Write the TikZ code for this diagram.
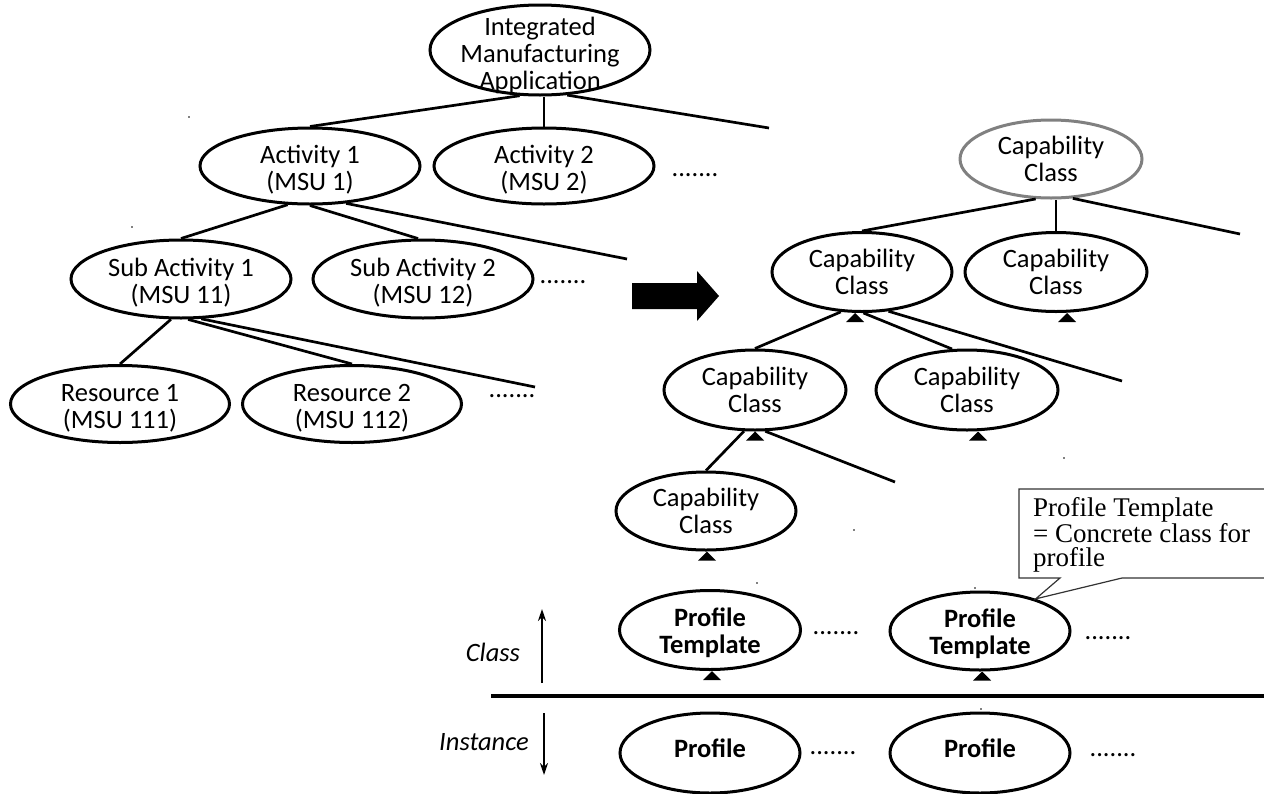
\documentclass[tikz,border=0pt]{standalone}
\usepackage{fontspec}
\setmainfont{Carlito}
\newfontfamily\tnr{Liberation Serif}
\usetikzlibrary{calc,arrows.meta,shapes.geometric}
\newcommand\ztext[2][12pt]{\makebox[0pt]{\smash{\raisebox{-#1}{\begin{tabular}{@{}c@{}}#2\end{tabular}}}}}
\begin{document}
\begin{tikzpicture}[x=1pt,y=-1pt,
  txt/.style={font=\fontsize{26.5}{27}\selectfont},
  el/.style={ellipse, draw, line width=3pt, inner sep=0pt, txt},
  gel/.style={el, draw=black!50},
  bel/.style={el, font=\fontsize{26.5}{27}\selectfont\bfseries},
  conn/.style={line width=2.7pt},
  dots/.style={inner sep=0pt, txt},
  lab/.style={inner sep=0pt, font=\fontsize{26.5}{27}\selectfont\itshape},
  updown/.style={line width=2.2pt, -{Stealth[length=12pt,width=8pt]}},
  tri/.style={fill=black}
]
\path[use as bounding box] (0,0) rectangle (1264,793);

% ---------------- left tree ----------------
\node[el, minimum width=220, minimum height=90] (top) at (540,50) {\ztext[13pt]{Integrated\\Manufacturing\\Application}};
\node[el, minimum width=220, minimum height=76] (act1) at (310,166) {\ztext{Activity 1\\(MSU 1)}};
\node[el, minimum width=220, minimum height=76] (act2) at (544,166) {\ztext{Activity 2\\(MSU 2)}};
\node[el, minimum width=220, minimum height=78] (sub1) at (181,279) {\ztext{Sub Activity 1\\(MSU 11)}};
\node[el, minimum width=220, minimum height=78] (sub2) at (423,279) {\ztext{Sub Activity 2\\(MSU 12)}};
\node[el, minimum width=219, minimum height=77] (res1) at (120,404) {\ztext{Resource 1\\(MSU 111)}};
\node[el, minimum width=219, minimum height=77] (res2) at (352,404) {\ztext{Resource 2\\(MSU 112)}};

\node[dots] (d1) at (695,175) {.......};
\node[dots] (d2) at (563,282) {.......};
\node[dots] (d3) at (512,396) {.......};

\coordinate (e1) at (769,128);
\coordinate (e2) at (627,259);
\coordinate (e3) at (535,387);
\draw[conn] (top.246) -- (act1.north);
\draw[conn] (act2.north) -- (act2.north |- top.south);
\draw[conn] (top.301) -- (e1);
\draw[conn] (act1.240) -- (sub1.north);
\draw[conn] (act1.south) -- (sub2.97);
\draw[conn] (act1.314) -- (e2);
\draw[conn] (sub1.256) -- (res1.north);
\draw[conn] (sub1.280) -- (res2.north);
\draw[conn] (sub1.297) -- (e3);

% ---------------- big arrow ----------------
\fill (632,283) -- (697,283) -- (697,271) -- (719,296) -- (697,321) -- (697,309) -- (632,309) -- cycle;

% ---------------- right tree ----------------
\node[gel, minimum width=182, minimum height=78] (cap0) at (1051,159) {\ztext[10pt]{Capability\\Class}};
\node[el, minimum width=180, minimum height=79] (cap1) at (862,272) {\ztext[10pt]{Capability\\Class}};
\node[el, minimum width=182, minimum height=79] (cap2) at (1056,272) {\ztext[10pt]{Capability\\Class}};
\node[el, minimum width=182, minimum height=80] (cap3) at (755,390) {\ztext[10pt]{Capability\\Class}};
\node[el, minimum width=182, minimum height=80] (cap4) at (967,390) {\ztext[10pt]{Capability\\Class}};
\node[el, minimum width=180, minimum height=78] (cap5) at (706,511) {\ztext[10pt]{Capability\\Class}};
\node[bel, minimum width=181, minimum height=79] (pt1) at (710,630) {\ztext[11pt]{Profile\\Template}};
\node[bel, minimum width=180, minimum height=78] (pt2) at (980,631) {\ztext[11pt]{Profile\\Template}};
\node[bel, minimum width=180, minimum height=80] (pr1) at (710,753) {\ztext[5pt]{Profile}};
\node[bel, minimum width=180, minimum height=80] (pr2) at (980,753) {\ztext[5pt]{Profile}};

\node[dots] (d4) at (836,633) {.......};
\node[dots] (d5) at (1108,638) {.......};
\node[dots] (d6) at (833,753) {.......};
\node[dots] (d7) at (1113,755) {.......};

\coordinate (e4) at (1240,234);
\coordinate (e5) at (1122,381);
\coordinate (e6) at (895,482);
\draw[conn] (cap0.249) -- (cap1.north);
\draw[conn] (cap2.north) -- (cap2.north |- cap0.south);
\draw[conn] (cap0.299) -- (e4);
\draw[conn] (cap1.242) -- (cap3.north);
\draw[conn] (cap1.272) -- (cap4.110);
\draw[conn] (cap1.304) -- (e5);
\draw[conn] (cap3.255) -- (cap5.north);
\draw[conn] (cap3.284) -- (e6);

\foreach \n/\dx in {cap1/-7, cap2/11, cap3/0, cap4/11, cap5/1, pt1/2, pt2/2}
  \fill[tri, shift={($(\n.south)+(\dx,0)$)}] (-9,9) -- (9,9) -- (0,0) -- cycle;

% tiny marks
\foreach \p in {(189,117),(132,227),(1064,458),(854,530),(757,583),(975,588),(981,709)}
  \fill \p circle (0.9);

% ---------------- class / instance ----------------
\coordinate (sepL) at (491,696);
\coordinate (sepR) at (1264,696);
\draw[line width=3.5pt] (sepL) -- (sepR);
\node[lab] (cls) at (493,652) {Class};
\node[lab] (ins) at (484,742) {Instance};
\coordinate (au1) at (542,683);
\coordinate (au2) at (542,609);
\coordinate (ad1) at (544,713);
\coordinate (ad2) at (544,775);
\draw[updown] (au1) -- (au2);
\draw[updown] (ad1) -- (ad2);

% ---------------- callout ----------------
\draw[line width=1.2pt, draw=black!80, fill=white] (1270,578) -- (1122,578) -- (pt2.30) -- (1060,578) -- (1019,578) -- (1019,489) -- (1270,489);
\node[anchor=north west, inner sep=0pt, align=left, font=\tnr\fontsize{27}{24.5}\selectfont] (note) at (1033,497.5) {Profile Template\\= Concrete class for\\profile};
\end{tikzpicture}
\end{document}
